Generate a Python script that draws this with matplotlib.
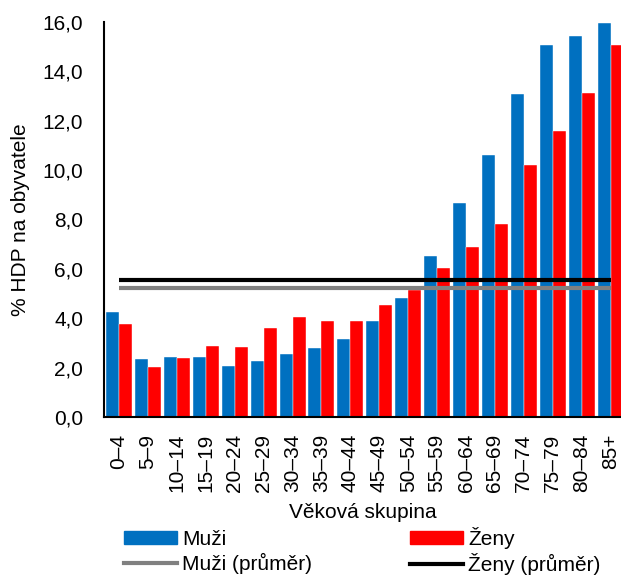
import matplotlib
matplotlib.use("Agg")
import matplotlib.pyplot as plt
import numpy as np
from matplotlib.patches import Patch
from matplotlib.lines import Line2D

plt.rcParams['font.family'] = ['Liberation Sans', 'DejaVu Sans']
plt.rcParams['font.size'] = 15

# age groups and values (% of GDP per capita)
groups = ["0–4", "5–9", "10–14", "15–19", "20–24", "25–29", "30–34", "35–39",
          "40–44", "45–49", "50–54", "55–59", "60–64", "65–69", "70–74",
          "75–79", "80–84", "85+"]
muzi = [4.27, 2.36, 2.43, 2.43, 2.08, 2.28, 2.57, 2.80, 3.17, 3.89, 4.81,
        6.54, 8.67, 10.61, 13.07, 15.08, 15.41, 15.96]
zeny = [3.78, 2.01, 2.39, 2.88, 2.85, 3.61, 4.04, 3.90, 3.89, 4.55, 5.16,
        6.05, 6.90, 7.83, 10.21, 11.57, 13.12, 15.07]
muzi_avg = 5.21
zeny_avg = 5.54

BLUE = "#0070C0"
RED = "#FF0000"

fig = plt.figure(figsize=(6.21, 5.76), dpi=100)
ax = fig.add_axes([0.1675, 0.276, 0.8325, 0.686])

x = np.arange(len(groups))
w = 0.45
ax.bar(x - w / 2, muzi, w, color=BLUE, edgecolor="white", linewidth=0.3)
ax.bar(x + w / 2, zeny, w, color=RED, edgecolor="white", linewidth=0.3)
ax.hlines(muzi_avg, 0, len(groups) - 1, color="#808080", lw=3)
ax.hlines(zeny_avg, 0, len(groups) - 1, color="black", lw=3)

ax.set_xlim(-0.52, 17.36)
ax.set_ylim(0, 16)
ax.set_yticks(np.arange(0, 16.1, 2))
ax.set_yticklabels([f"{v:.1f}".replace(".", ",") for v in np.arange(0, 16.1, 2)])
ax.set_xticks(x)
ax.set_xticklabels(groups, rotation=90)
ax.tick_params(axis="both", length=0)
ax.tick_params(axis="x", pad=12)
ax.tick_params(axis="y", pad=15)

for s in ["top", "right"]:
    ax.spines[s].set_visible(False)
for s in ["left", "bottom"]:
    ax.spines[s].set_linewidth(1.5)

ax.set_ylabel("% HDP na obyvatele", labelpad=9)
ax.set_xlabel("Věková skupina", labelpad=8)

handles = [Patch(color=BLUE), Line2D([], [], color="#808080", lw=3),
           Patch(color=RED), Line2D([], [], color="black", lw=3)]
labels = ["Muži", "Muži (průměr)", "Ženy", "Ženy (průměr)"]
fig.legend(handles, labels, ncol=2, loc="lower left",
           bbox_to_anchor=(0.176, -0.024), frameon=False,
           handlelength=2.55, handleheight=0.6, handletextpad=0.25,
           columnspacing=4.7, labelspacing=0.2, borderpad=0.2)

fig.savefig("out.png", dpi=100)
